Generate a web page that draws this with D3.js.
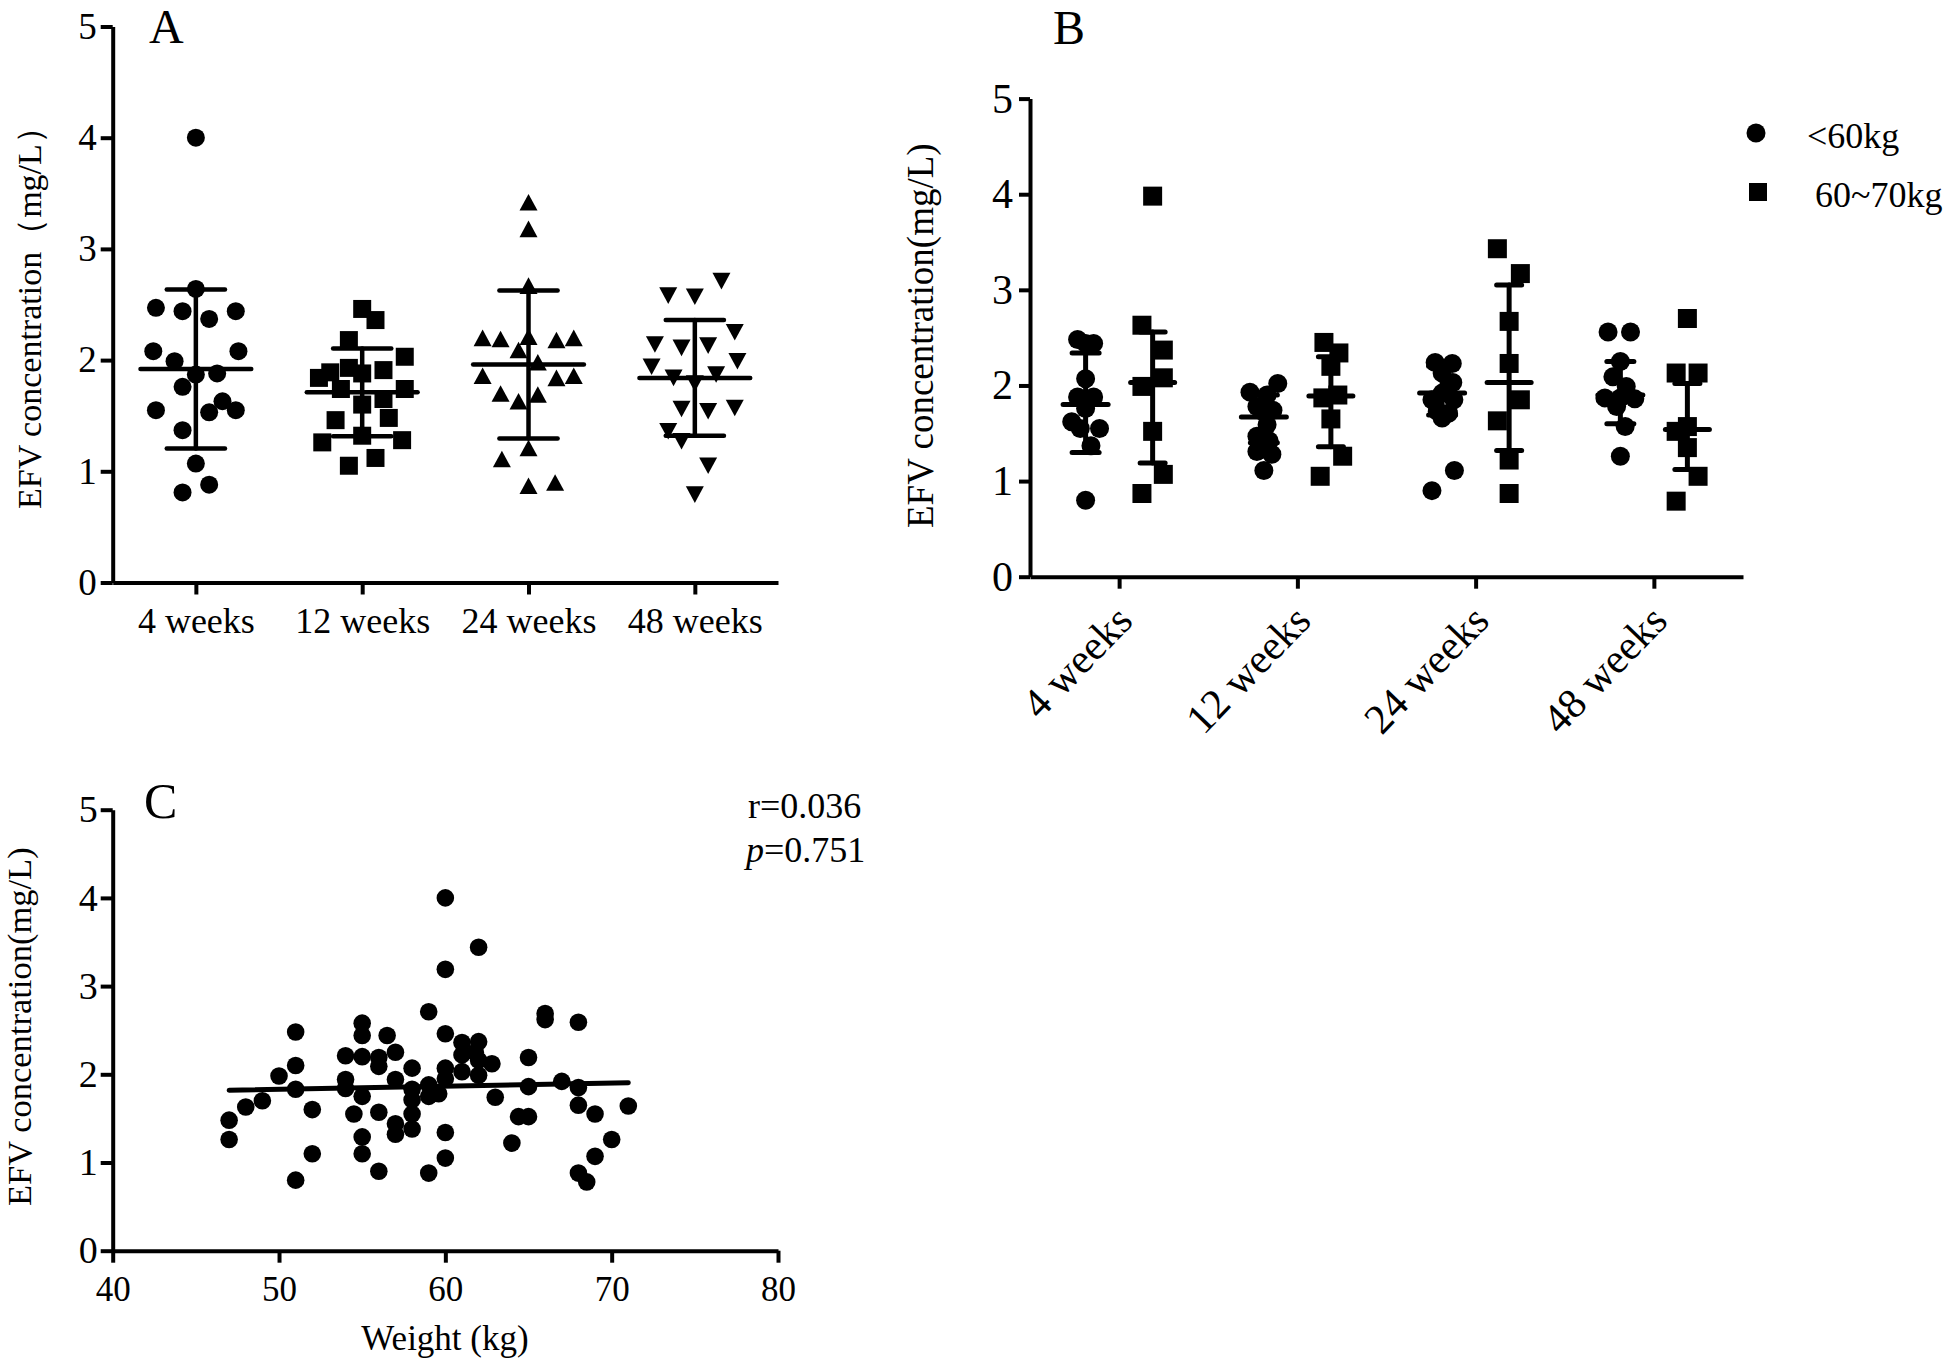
<!DOCTYPE html>
<html><head><meta charset="utf-8">
<script src="https://cdn.jsdelivr.net/npm/d3@7"></script>
<style>
body{margin:0;background:#fff}
svg{display:block}
text{font-family:"Liberation Serif","Times New Roman",serif;fill:#000}
</style>
</head><body>
<svg id="chart" width="1946" height="1365"></svg>
<script>
// ---------------- DATA ----------------
const categories = ["4 weeks", "12 weeks", "24 weeks", "48 weeks"];
const concTicks = [0, 1, 2, 3, 4, 5];
const weightTicks = [40, 50, 60, 70, 80];

// Panel A: all patients per visit
const a4w  = [4.00, 2.64, 2.47, 2.44, 2.37, 2.44, 2.08, 2.08, 1.99, 1.87, 1.88, 1.76, 1.55, 1.53, 1.63, 1.55, 1.37, 1.07, 0.88, 0.81];
const a4wJ = [0, 0, -3, -1, 1, 3, -3.2, 3.2, -1.6, 0, 1.6, -1, -3, 1, 2, 3, -1, 0, 1, -1];
const a12w  = [2.46, 2.36, 2.18, 2.03, 1.89, 1.84, 1.93, 1.88, 1.91, 1.74, 1.74, 1.65, 1.60, 1.46, 1.48, 1.26, 1.32, 1.28, 1.05, 1.12];
const a12wJ = [0, 1, -1, 3.2, -2.4, -3.25, -1, 0, 1.6, -1.6, 3.2, 1.6, 0, -2, 2, -3, 0, 3, -1, 1];
const a24w  = [3.42, 3.18, 2.67, 2.20, 2.19, 2.21, 2.18, 2.20, 2.09, 1.98, 1.86, 1.84, 1.86, 1.70, 1.63, 1.69, 1.21, 1.11, 0.87, 0.90];
const a24wJ = [0, 0, 0, -3.45, -2.1, 0, 2.1, 3.4, -0.75, 0.7, -3.45, 2.1, 3.4, -2.1, -0.75, 0.7, 0, -2, 0, 2];
const a48w  = [2.71, 2.58, 2.57, 2.25, 2.14, 2.11, 2.13, 1.99, 1.94, 1.84, 1.87, 1.79, 1.56, 1.54, 1.57, 1.36, 1.27, 1.05, 0.79];
const a48wJ = [2, -2, 0, 3, -3, -1, 1, 3.2, -3.25, -1.6, 1.6, 0, -1, 1, 3, -2, -1, 1, 0];
const aMean = [1.92, 1.71, 1.96, 1.84];
const aSD   = [0.715, 0.395, 0.665, 0.52];
const aShapes = ["circle", "square", "triangle", "triangleDown"];

// Panel B: by weight group
const groups = ["<60kg", "60~70kg"];
const bLight4w  = [2.48, 2.44, 2.44, 2.07, 1.88, 1.88, 1.76, 1.62, 1.55, 1.55, 1.37, 0.80];
const bLight4wJ = [-1.5, 1.5, 0, 0, -1.5, 1.5, 0, -2.6, -1, 2.6, 1, 0];
const bLight12w  = [2.02, 1.93, 1.90, 1.78, 1.74, 1.72, 1.59, 1.47, 1.42, 1.31, 1.28, 1.11];
const bLight12wJ = [2.6, -2.6, 0.6, -1.3, 1.7, 0, 0.6, -1.3, 1, -1.3, 1.5, 0];
const bLight24w  = [2.24, 2.23, 2.13, 2.03, 1.92, 1.85, 1.85, 1.73, 1.71, 1.66, 1.11, 0.90];
const bLight24wJ = [-1.3, 1.9, 0, 2, 0, -1.9, 2.2, -0.9, 1.2, 0, 2.3, -1.9];
const bLight48w  = [2.56, 2.56, 2.25, 2.09, 1.99, 1.87, 1.87, 1.86, 1.78, 1.57, 1.26];
const bLight48wJ = [-2.3, 1.9, 0, -1.4, 1.1, -2.9, 0, 2.7, -0.7, 0.9, 0];
const bHeavy4w  = [3.98, 2.63, 2.37, 2.08, 1.99, 1.52, 1.07, 0.87];
const bHeavy4wJ = [0, -2, 2, 2, -2, 0, 2, -2];
const bHeavy12w  = [2.45, 2.34, 2.20, 1.90, 1.87, 1.65, 1.26, 1.05];
const bHeavy12wJ = [-1.3, 1.5, 0, 1.3, -1.5, 0, 2.2, -2];
const bHeavy24w  = [3.43, 3.17, 2.67, 2.23, 1.85, 1.63, 1.22, 0.87];
const bHeavy24wJ = [-2.2, 2.1, 0, 0, 2.1, -2.2, 0, 0];
const bHeavy48w  = [2.70, 2.13, 2.13, 1.57, 1.52, 1.35, 1.05, 0.79];
const bHeavy48wJ = [0, -2.1, 2, 0, -2.1, 0, 2, -2.1];
// centre line and error bar ends
const bLightMid  = [1.80, 1.67, 1.92, 1.90];
const bLightLow  = [1.30, 1.40, 1.69, 1.60];
const bLightHigh = [2.34, 1.90, 2.20, 2.25];
const bHeavyMid  = [2.03, 1.89, 2.03, 1.54];
const bHeavyLow  = [1.19, 1.36, 1.32, 1.12];
const bHeavyHigh = [2.56, 2.30, 3.05, 2.02];

// Panel C: concentration vs body weight
const cWeight = [47, 47, 48, 49, 50, 51, 51, 51, 51, 52, 52, 54, 54, 54, 54.5, 55, 55, 55, 55, 55, 55,
  56, 56, 56.5, 56, 56, 57, 57, 57, 57, 58, 58, 58, 58, 58, 59, 59, 59, 59.6, 59,
  60, 60, 60, 60, 60, 60, 60, 61, 61, 61, 61.8, 62, 62, 62, 62, 62.8, 63, 64, 64.4,
  65, 65, 65, 66, 66, 67, 68, 68, 68, 68, 68.5, 69, 69, 70, 71];
const cConc = [1.48, 1.26, 1.63, 1.70, 1.98, 2.48, 2.10, 1.83, 0.80, 1.60, 1.10, 2.21, 1.94, 1.84, 1.55, 2.58, 2.44, 2.20, 1.75, 1.29, 1.10,
  2.19, 2.09, 2.44, 1.57, 0.90, 2.25, 1.94, 1.44, 1.32, 2.07, 1.83, 1.71, 1.55, 1.38, 2.71, 1.88, 1.75, 1.78, 0.88,
  4.00, 3.19, 2.46, 2.07, 1.95, 1.34, 1.05, 2.36, 2.22, 2.03, 2.25, 3.44, 2.37, 2.16, 1.99, 2.12, 1.74, 1.22, 1.52,
  2.19, 1.86, 1.52, 2.69, 2.62, 1.92, 2.59, 1.85, 1.65, 0.88, 0.78, 1.55, 1.07, 1.26, 1.64];
const fitWeight = [47, 71];
const fitConc = [1.82, 1.905];
const statR = "r=0.036";
const statP = "0.751";

// ---------------- HELPERS ----------------
const svg = d3.select("#chart");

function shapePath(type, s) {
  if (type === "circle") return d3.symbol(d3.symbolCircle, Math.PI * s * s / 4)();
  if (type === "square") return `M${-s/2},${-s/2}h${s}v${s}h${-s}Z`;
  const h = s * 0.92;
  if (type === "triangle") return `M0,${-h/2}L${s/2},${h/2}L${-s/2},${h/2}Z`;
  return `M0,${h/2}L${s/2},${-h/2}L${-s/2},${-h/2}Z`;
}

function styleAxis(g, fontSize) {
  g.select(".domain").attr("stroke", "#000").attr("stroke-width", 4);
  g.selectAll(".tick line").attr("stroke", "#000").attr("stroke-width", 4);
  g.selectAll(".tick text").attr("font-size", fontSize).attr("fill", "#000")
    .attr("font-family", "Liberation Serif, Times New Roman, serif");
  g.attr("font-family", null).attr("font-size", null);
}

function errorBar(g, x, mid, low, high, y, halfMean, halfCap, sw) {
  const grp = g.append("g").attr("stroke", "#000").attr("stroke-width", sw).attr("stroke-linecap", "round");
  grp.append("line").attr("x1", x).attr("x2", x).attr("y1", y(high)).attr("y2", y(low));
  grp.append("line").attr("x1", x - halfMean).attr("x2", x + halfMean).attr("y1", y(mid)).attr("y2", y(mid));
  grp.append("line").attr("x1", x - halfCap).attr("x2", x + halfCap).attr("y1", y(high)).attr("y2", y(high));
  grp.append("line").attr("x1", x - halfCap).attr("x2", x + halfCap).attr("y1", y(low)).attr("y2", y(low));
}

// ---------------- PANEL A ----------------
{
  const g = svg.append("g");
  const x = d3.scalePoint().domain(categories).range([112.7, 778]).padding(0.5);
  const y = d3.scaleLinear().domain([0, 5]).range([582.5, 26.5]);
  const step = x.step();
  const slot = step * 0.08;
  const vals = [a4w, a12w, a24w, a48w];
  const jit = [a4wJ, a12wJ, a24wJ, a48wJ];

  vals.forEach((arr, i) => {
    const cx = x(categories[i]);
    g.append("g").selectAll("path").data(arr).join("path")
      .attr("d", shapePath(aShapes[i], 18))
      .attr("transform", (d, j) => `translate(${cx + jit[i][j] * slot},${y(d)})`)
      .attr("fill", "#000");
    errorBar(g, cx, aMean[i], aMean[i] - aSD[i], aMean[i] + aSD[i], y, step * 0.333, step * 0.175, 4.5);
  });

  const ya = g.append("g").attr("transform", "translate(112.7,0)")
    .call(d3.axisLeft(y).tickValues(concTicks).tickFormat(d3.format("d")).tickSize(12).tickPadding(4).tickSizeOuter(0));
  styleAxis(ya, 37);
  const xa = g.append("g").attr("transform", "translate(0,582.5)")
    .call(d3.axisBottom(x).tickSize(12).tickPadding(13).tickSizeOuter(0));
  styleAxis(xa, 36);

  g.append("text").attr("transform", "translate(41,509) rotate(-90)")
    .attr("font-size", 34).text("EFV concentration（mg/L）");
  g.append("text").attr("x", 149).attr("y", 43).attr("font-size", 48).text("A");
}

// ---------------- PANEL B ----------------
{
  const g = svg.append("g");
  const x = d3.scalePoint().domain(categories).range([1030, 1743]).padding(0.5);
  const y = d3.scaleLinear().domain([0, 5]).range([576.7, 98.6]);
  const step = x.step();
  const off = step * 0.188;
  const slot = step * 0.03;
  const light = [bLight4w, bLight12w, bLight24w, bLight48w];
  const lightJ = [bLight4wJ, bLight12wJ, bLight24wJ, bLight48wJ];
  const heavy = [bHeavy4w, bHeavy12w, bHeavy24w, bHeavy48w];
  const heavyJ = [bHeavy4wJ, bHeavy12wJ, bHeavy24wJ, bHeavy48wJ];

  categories.forEach((c, i) => {
    const cxL = x(c) - off, cxH = x(c) + off;
    g.append("g").selectAll("path").data(light[i]).join("path")
      .attr("d", shapePath("circle", 19))
      .attr("transform", (d, j) => `translate(${cxL + lightJ[i][j] * slot},${y(d)})`)
      .attr("fill", "#000");
    g.append("g").selectAll("path").data(heavy[i]).join("path")
      .attr("d", shapePath("square", 19))
      .attr("transform", (d, j) => `translate(${cxH + heavyJ[i][j] * slot},${y(d)})`)
      .attr("fill", "#000");
    errorBar(g, cxL, bLightMid[i], bLightLow[i], bLightHigh[i], y, 22.5, 13.5, 5);
    errorBar(g, cxH, bHeavyMid[i], bHeavyLow[i], bHeavyHigh[i], y, 22, 12.5, 5);
  });

  const ya = g.append("g").attr("transform", "translate(1030,0)")
    .call(d3.axisLeft(y).tickValues(concTicks).tickFormat(d3.format("d")).tickSize(11).tickPadding(6).tickSizeOuter(0));
  styleAxis(ya, 42);
  const xa = g.append("g").attr("transform", "translate(0,576.7)")
    .call(d3.axisBottom(x).tickSize(12).tickSizeOuter(0));
  styleAxis(xa, 42);
  xa.selectAll(".tick text")
    .attr("x", 0).attr("y", 0).attr("dy", null)
    .attr("text-anchor", "end")
    .attr("transform", "translate(15,46) rotate(-46)");

  g.append("text").attr("transform", "translate(933,528) rotate(-90)")
    .attr("font-size", 37).text("EFV concentration(mg/L)");
  g.append("text").attr("x", 1053).attr("y", 44).attr("font-size", 48).text("B");

  // legend
  const leg = g.append("g");
  const legendShapes = ["circle", "square"];
  const legY = d3.scalePoint().domain(groups).range([133, 192]);
  groups.forEach((name, i) => {
    leg.append("path").attr("d", shapePath(legendShapes[i], i === 0 ? 19 : 18))
      .attr("transform", `translate(${1756 + i * 2},${legY(name)})`).attr("fill", "#000");
    leg.append("text").attr("x", 1807 + i * 8).attr("y", legY(name) + 15)
      .attr("font-size", 36).text(name);
  });
}

// ---------------- PANEL C ----------------
{
  const g = svg.append("g");
  const x = d3.scaleLinear().domain([40, 80]).range([112.7, 778]);
  const y = d3.scaleLinear().domain([0, 5]).range([1250.7, 809.7]);

  g.append("g").selectAll("circle").data(cWeight).join("circle")
    .attr("cx", d => x(d)).attr("cy", (d, i) => y(cConc[i])).attr("r", 8.8).attr("fill", "#000");

  g.append("line")
    .attr("x1", x(fitWeight[0])).attr("y1", y(fitConc[0]))
    .attr("x2", x(fitWeight[1])).attr("y2", y(fitConc[1]))
    .attr("stroke", "#000").attr("stroke-width", 5).attr("stroke-linecap", "round");

  const ya = g.append("g").attr("transform", "translate(112.7,0)")
    .call(d3.axisLeft(y).tickValues(concTicks).tickFormat(d3.format("d")).tickSize(12).tickPadding(3).tickSizeOuter(0));
  styleAxis(ya, 38);
  const xa = g.append("g").attr("transform", "translate(0,1250.7)")
    .call(d3.axisBottom(x).tickValues(weightTicks).tickFormat(d3.format("d")).tickSize(12).tickPadding(13).tickSizeOuter(0));
  styleAxis(xa, 35);

  g.append("text").attr("transform", "translate(31,1206) rotate(-90)")
    .attr("font-size", 34.5).text("EFV concentration(mg/L)");
  g.append("text").attr("x", 445).attr("y", 1350).attr("text-anchor", "middle")
    .attr("font-size", 35).text("Weight (kg)");
  g.append("text").attr("x", 144).attr("y", 818).attr("font-size", 50).text("C");
  g.append("text").attr("x", 748).attr("y", 818).attr("font-size", 36).text(statR);
  const pt = g.append("text").attr("x", 746).attr("y", 862).attr("font-size", 36);
  pt.append("tspan").attr("font-style", "italic").text("p");
  pt.append("tspan").text("=" + statP);
}
</script>
</body></html>
